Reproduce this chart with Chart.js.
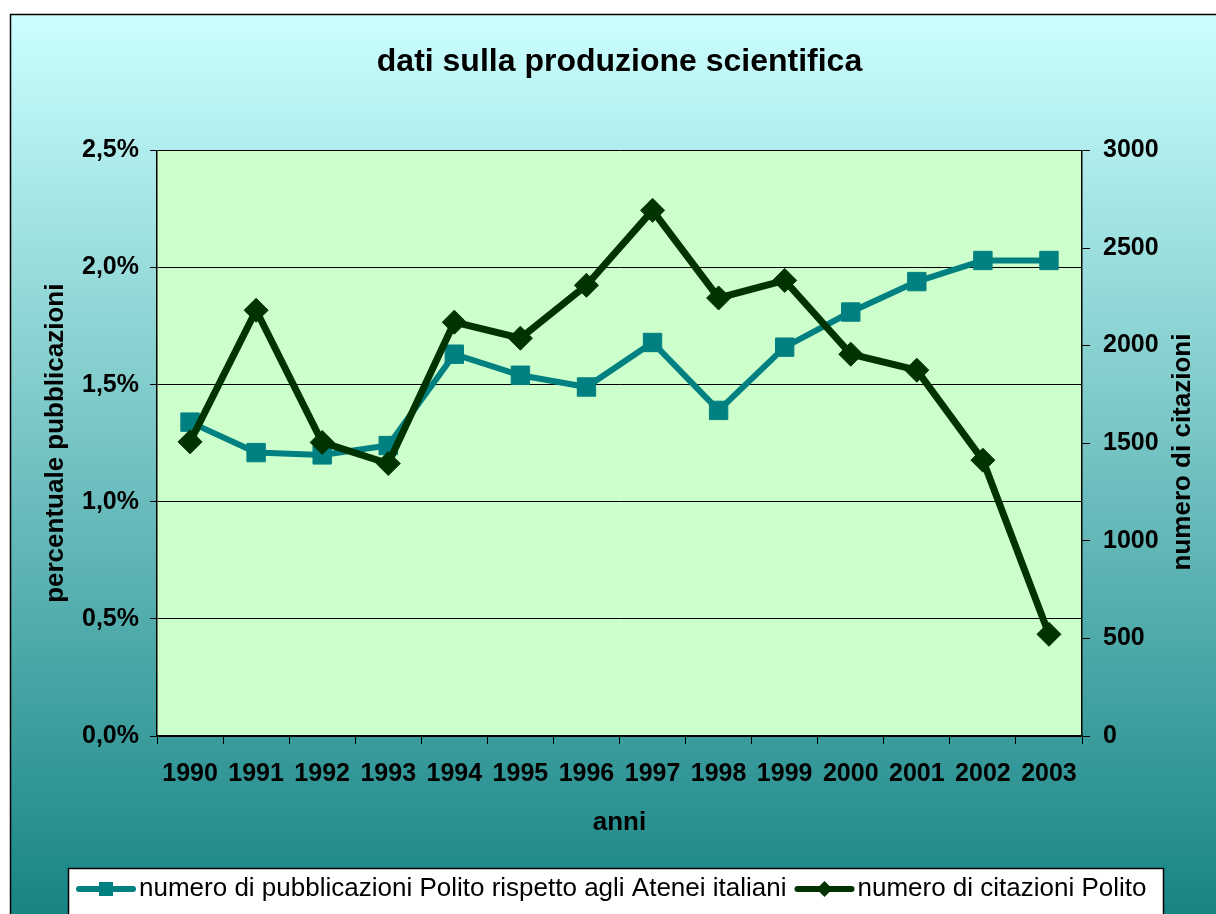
<!DOCTYPE html>
<html>
<head>
<meta charset="utf-8">
<script src="https://cdn.jsdelivr.net/npm/chart.js@4"></script>
<style>
  html, body { margin: 0; padding: 0; background: #ffffff; }
  #wrap { width: 1216px; height: 914px; }
</style>
</head>
<body>
<div id="wrap"><canvas id="chartProduzione" width="1216" height="914"></canvas></div>
<script>
// dati
const anni = ['1990', '1991', '1992', '1993', '1994', '1995', '1996', '1997', '1998', '1999', '2000', '2001', '2002', '2003'];
const pubblicazioni = [1.34, 1.21, 1.20, 1.24, 1.63, 1.54, 1.49, 1.68, 1.39, 1.66, 1.81, 1.94, 2.03, 2.03]; // percentuale
const citazioni = [1507, 2181, 1504, 1396, 2120, 2038, 2309, 2693, 2244, 2334, 1956, 1874, 1413, 521];
const tickPercentuali = ['0,0%', '0,5%', '1,0%', '1,5%', '2,0%', '2,5%'];
const tickCitazioni = ['0', '500', '1000', '1500', '2000', '2500', '3000'];

const FONT = "'Liberation Sans', Arial, sans-serif";

// sfondo a gradiente, cornice, area del grafico verde
const sfondoPlugin = {
  id: 'sfondo',
  beforeDraw(chart) {
    const ctx = chart.ctx;
    const area = chart.chartArea;
    ctx.save();
    ctx.fillStyle = '#ffffff';
    ctx.fillRect(0, 0, chart.width, chart.height);
    const grad = ctx.createLinearGradient(0, 14, 0, 914);
    grad.addColorStop(0, '#ccffff');
    grad.addColorStop(1, '#188484');
    ctx.fillStyle = grad;
    ctx.fillRect(10, 14, chart.width - 10, chart.height - 14);
    ctx.strokeStyle = '#000000';
    ctx.lineWidth = 1.5;
    ctx.beginPath();
    ctx.moveTo(10.5, chart.height + 2);
    ctx.lineTo(10.5, 14.5);
    ctx.lineTo(chart.width + 2, 14.5);
    ctx.stroke();
    ctx.fillStyle = '#ccffcc';
    ctx.fillRect(area.left, area.top, area.right - area.left, area.bottom - area.top);
    ctx.restore();
  },
  afterDraw(chart) {
    const ctx = chart.ctx;
    ctx.save();
    // titolo asse destro (letto dal basso verso l'alto)
    ctx.fillStyle = '#000000';
    ctx.font = 'bold 26px ' + FONT;
    ctx.textAlign = 'center';
    ctx.textBaseline = 'middle';
    ctx.translate(1183, 452);
    ctx.rotate(-Math.PI / 2);
    ctx.fillText('numero di citazioni', 0, 0);
    ctx.restore();

    // legenda in basso
    ctx.save();
    ctx.fillStyle = '#ffffff';
    ctx.fillRect(68, 868, 1095, 60);
    ctx.strokeStyle = '#000000';
    ctx.lineWidth = 1.5;
    ctx.strokeRect(68.5, 868.5, 1095, 60);
    ctx.font = '26px ' + FONT;
    ctx.textBaseline = 'middle';
    ctx.textAlign = 'left';
    let x = 76;
    const y = 889;
    chart.data.datasets.forEach(function(ds) {
      ctx.strokeStyle = ds.borderColor;
      ctx.lineWidth = 6;
      ctx.lineCap = 'round';
      ctx.beginPath();
      ctx.moveTo(x + 3, y);
      ctx.lineTo(x + 57, y);
      ctx.stroke();
      ctx.fillStyle = ds.borderColor;
      const cx = x + 30;
      if (ds.pointStyle === 'rect') {
        ctx.fillRect(cx - 7, y - 7, 14, 14);
      } else {
        ctx.beginPath();
        ctx.moveTo(cx, y - 8);
        ctx.lineTo(cx + 8, y);
        ctx.lineTo(cx, y + 8);
        ctx.lineTo(cx - 8, y);
        ctx.closePath();
        ctx.fill();
      }
      ctx.fillStyle = '#000000';
      ctx.fillText(ds.label, x + 63, y);
      x += 63 + ctx.measureText(ds.label).width + 8;
    });
    ctx.restore();
  }
};

function drawChart() {
  const ctx = document.getElementById('chartProduzione').getContext('2d');

  new Chart(ctx, {
    type: 'line',
    data: {
      labels: anni,
      datasets: [
        {
          label: 'numero di pubblicazioni Polito rispetto agli Atenei italiani',
          data: pubblicazioni,
          yAxisID: 'y',
          order: 2,
          borderColor: '#008080',
          backgroundColor: '#008080',
          borderWidth: 6,
          tension: 0,
          pointStyle: 'rect',
          pointRadius: 13,
          pointBackgroundColor: '#008080',
          pointBorderColor: '#008080',
          pointBorderWidth: 1
        },
        {
          label: 'numero di citazioni Polito',
          data: citazioni,
          yAxisID: 'y1',
          order: 1,
          borderColor: '#003300',
          backgroundColor: '#003300',
          borderWidth: 7,
          tension: 0,
          pointStyle: 'rectRot',
          pointRadius: 12,
          pointBackgroundColor: '#003300',
          pointBorderColor: '#003300',
          pointBorderWidth: 1
        }
      ]
    },
    options: {
      responsive: false,
      animation: false,
      layout: { padding: 0 },
      plugins: {
        legend: { display: false },
        tooltip: { enabled: false },
        title: {
          display: true,
          fullSize: false,
          text: 'dati sulla produzione scientifica',
          color: '#000000',
          font: { family: FONT, size: 32, weight: 'bold' },
          padding: { top: 43, bottom: 69 }
        }
      },
      scales: {
        x: {
          offset: true,
          grid: {
            offset: true,
            drawOnChartArea: false,
            drawTicks: true,
            tickLength: 8,
            color: '#000000'
          },
          border: { display: true, color: '#000000', width: 1.5 },
          ticks: {
            color: '#000000',
            padding: 15,
            maxRotation: 0,
            autoSkip: false,
            font: { family: FONT, size: 25, weight: 'bold' }
          },
          title: {
            display: true,
            text: 'anni',
            color: '#000000',
            font: { family: FONT, size: 26, weight: 'bold' },
            padding: { top: 0, bottom: 76 }
          },
          afterFit: function(scale) { scale.height = 178; }
        },
        y: {
          position: 'left',
          min: 0,
          max: 2.5,
          grid: {
            color: '#000000',
            lineWidth: 1,
            drawTicks: true,
            tickLength: 7
          },
          border: { display: true, color: '#000000', width: 1.5 },
          ticks: {
            stepSize: 0.5,
            color: '#000000',
            padding: 11,
            font: { family: FONT, size: 25, weight: 'bold' },
            callback: function(value, index) { return tickPercentuali[index]; }
          },
          title: {
            display: true,
            text: 'percentuale pubblicazioni',
            color: '#000000',
            font: { family: FONT, size: 26, weight: 'bold' },
            padding: { top: 40, bottom: 0 }
          },
          afterFit: function(scale) { scale.width = 157; }
        },
        y1: {
          position: 'right',
          min: 0,
          max: 3000,
          grid: {
            drawOnChartArea: false,
            drawTicks: true,
            tickLength: 8,
            color: '#000000'
          },
          border: { display: true, color: '#000000', width: 1.5 },
          ticks: {
            stepSize: 500,
            color: '#000000',
            padding: 13,
            font: { family: FONT, size: 25, weight: 'bold' },
            callback: function(value, index) { return tickCitazioni[index]; }
          },
          afterFit: function(scale) { scale.width = 134; }
        }
      }
    },
    plugins: [sfondoPlugin]
  });
}

document.addEventListener('DOMContentLoaded', function() {
  drawChart();
});
</script>
</body>
</html>
